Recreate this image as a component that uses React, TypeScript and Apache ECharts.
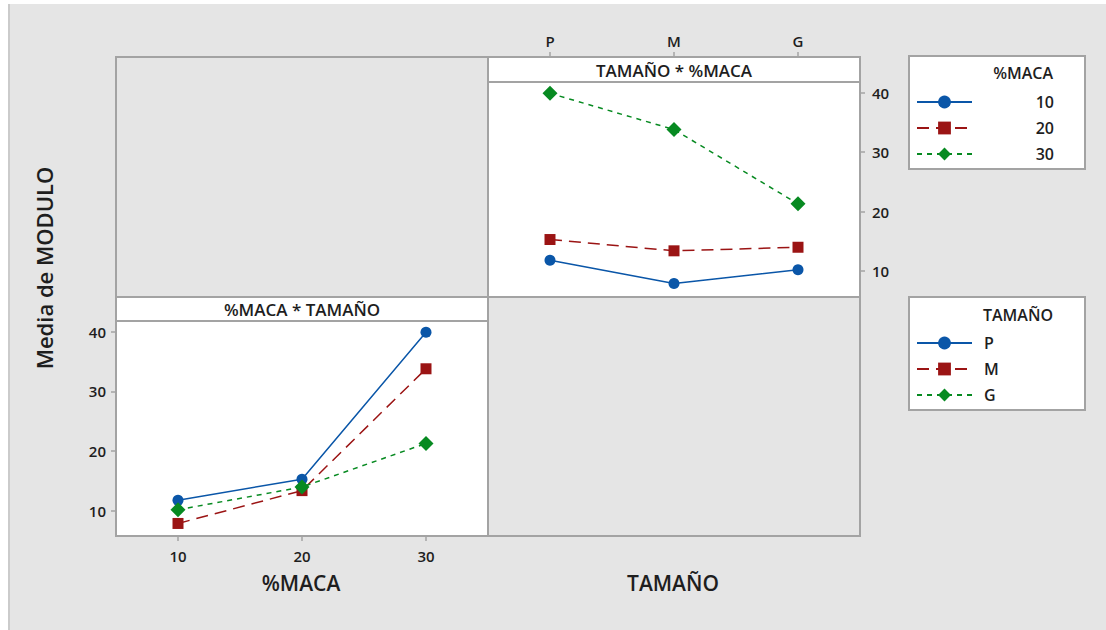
import React, { useEffect, useRef } from "react";
import * as echarts from "echarts";

// Categories
const tamanoCats = ["P", "M", "G"];
const macaCats = ["10", "20", "30"];
// Means of MODULO by TAMAÑO (rows) across %MACA 10, 20, 30
const meanP = [11.8, 15.3, 39.9];
const meanM = [7.9, 13.4, 33.8];
const meanG = [10.2, 14.0, 21.3];
const yTicks = [10, 20, 30, 40];
const yMin = 5.8;
const yMax = 41.8;

const FONT = "Open Sans";
const BLUE = "#0a56a8";
const RED = "#9b1414";
const GREEN = "#078a21";
const BORDER = "#a3a3a3";
const BG = "#e5e5e5";
const TXT = "#1e1e1e";

const styles = [
  { color: BLUE, symbol: "circle", size: 11, type: "solid" as any },
  { color: RED, symbol: "rect", size: 11, type: [12, 7] as any },
  { color: GREEN, symbol: "diamond", size: 15, type: [5, 5] as any },
];

export default function App() {
  const ref = useRef<HTMLDivElement>(null);
  useEffect(() => {
    if (!ref.current) return;
    const chart = echarts.init(ref.current, undefined, { renderer: "svg" });
    const byTamano = [meanP, meanM, meanG];
    // top panel: x = TAMAÑO, one series per %MACA level
    const topSeries = macaCats.map((m, j) => ({
      name: m,
      type: "line",
      xAxisIndex: 0,
      yAxisIndex: 0,
      data: byTamano.map((row) => row[j]),
      symbol: styles[j].symbol,
      symbolSize: styles[j].size,
      itemStyle: { color: styles[j].color },
      lineStyle: { color: styles[j].color, width: 1.5, type: styles[j].type },
      z: 5,
    }));
    // bottom panel: x = %MACA, one series per TAMAÑO level
    const botSeries = tamanoCats.map((t, i) => ({
      name: t,
      type: "line",
      xAxisIndex: 1,
      yAxisIndex: 1,
      data: byTamano[i],
      symbol: styles[i].symbol,
      symbolSize: styles[i].size,
      itemStyle: { color: styles[i].color },
      lineStyle: { color: styles[i].color, width: 1.5, type: styles[i].type },
      z: 5,
    }));

    const tickLabel = { color: TXT, fontFamily: FONT, fontSize: 15, fontWeight: 600 };
    const tick = { show: true, length: 5, lineStyle: { color: BORDER, width: 1.5 } };

    const legendCommon = {
      orient: "vertical",
      left: 916,
      itemWidth: 55,
      itemHeight: 16,
      itemGap: 10,
      padding: 0,
      selectedMode: false,
      textStyle: { color: TXT, fontFamily: FONT, fontSize: 16, fontWeight: 600 },
    };

    const option: any = {
      animation: false,
      backgroundColor: "transparent",
      grid: [
        { left: 488, top: 82, width: 372, height: 214, containLabel: false },
        { left: 116, top: 321, width: 372, height: 215, containLabel: false },
      ],
      xAxis: [
        {
          type: "category",
          gridIndex: 0,
          data: tamanoCats,
          position: "top",
          offset: 25,
          boundaryGap: true,
          axisLine: { show: false },
          axisTick: { ...tick, alignWithLabel: true },
          axisLabel: { ...tickLabel, margin: 9 },
        },
        {
          type: "category",
          gridIndex: 1,
          data: macaCats,
          position: "bottom",
          boundaryGap: true,
          axisLine: { show: false },
          axisTick: { ...tick, alignWithLabel: true },
          axisLabel: { ...tickLabel, margin: 12 },
        },
      ],
      yAxis: [
        {
          type: "value",
          gridIndex: 0,
          position: "right",
          min: yMin,
          max: yMax,
          splitLine: { show: false },
          axisLine: { show: false },
          axisTick: { ...tick, customValues: yTicks },
          axisLabel: { ...tickLabel, margin: 12, customValues: yTicks },
        },
        {
          type: "value",
          gridIndex: 1,
          position: "left",
          min: yMin,
          max: yMax,
          splitLine: { show: false },
          axisLine: { show: false },
          axisTick: { ...tick, customValues: yTicks },
          axisLabel: { ...tickLabel, margin: 10, customValues: yTicks },
        },
      ],
      legend: [
        {
          ...legendCommon,
          top: 94,
          data: macaCats,
          formatter: (n: string) => `{r|${n}}`,
          textStyle: {
            ...legendCommon.textStyle,
            rich: { r: { width: 77, align: "right", color: TXT, fontFamily: FONT, fontSize: 16, fontWeight: 600 } },
          },
        },
        {
          ...legendCommon,
          top: 335,
          data: tamanoCats,
          formatter: (n: string) => `{l|${n}}`,
          textStyle: {
            ...legendCommon.textStyle,
            rich: { l: { padding: [0, 0, 0, 7], color: TXT, fontFamily: FONT, fontSize: 16, fontWeight: 600 } },
          },
        },
      ],
      graphic: [
        // page background
        { type: "rect", z: -20, shape: { x: 8, y: 4, width: 1098, height: 626 }, style: { fill: BG } },
        { type: "rect", z: -19, shape: { x: 8, y: 4, width: 2, height: 626 }, style: { fill: "#cbcbcb" } },
        // white panels
        { type: "rect", z: -15, shape: { x: 488, y: 57, width: 372, height: 240 }, style: { fill: "#ffffff" } },
        { type: "rect", z: -15, shape: { x: 116, y: 297, width: 372, height: 239 }, style: { fill: "#ffffff" } },
        // outer frame and dividers
        { type: "rect", z: 1, shape: { x: 116, y: 57, width: 744, height: 479 }, style: { fill: "none", stroke: BORDER, lineWidth: 2 } },
        { type: "line", z: 1, shape: { x1: 488, y1: 57, x2: 488, y2: 536 }, style: { stroke: BORDER, lineWidth: 2 } },
        { type: "line", z: 1, shape: { x1: 116, y1: 297, x2: 860, y2: 297 }, style: { stroke: BORDER, lineWidth: 2 } },
        // strip separators
        { type: "line", z: 1, shape: { x1: 488, y1: 82, x2: 860, y2: 82 }, style: { stroke: BORDER, lineWidth: 2 } },
        { type: "line", z: 1, shape: { x1: 116, y1: 321, x2: 488, y2: 321 }, style: { stroke: BORDER, lineWidth: 2 } },
        // strip titles
        { type: "text", z: 2, x: 674, y: 70, style: { text: "TAMAÑO * %MACA", fill: TXT, font: `600 17px "${FONT}"`, textAlign: "center", textVerticalAlign: "middle" } },
        { type: "text", z: 2, x: 302, y: 309, style: { text: "%MACA * TAMAÑO", fill: TXT, font: `600 17px "${FONT}"`, textAlign: "center", textVerticalAlign: "middle" } },
        // axis titles
        { type: "text", z: 2, x: 301, y: 583, style: { text: "%MACA", fill: TXT, font: `600 21px "${FONT}"`, textAlign: "center", textVerticalAlign: "middle" } },
        { type: "text", z: 2, x: 673, y: 583, style: { text: "TAMAÑO", fill: TXT, font: `600 21px "${FONT}"`, textAlign: "center", textVerticalAlign: "middle" } },
        { type: "text", z: 2, x: 44, y: 268, rotation: Math.PI / 2, style: { text: "Media de MODULO", fill: TXT, font: `600 22px "${FONT}"`, textAlign: "center", textVerticalAlign: "middle" } },
        // legend boxes
        { type: "rect", z: -10, shape: { x: 909, y: 56, width: 176, height: 113 }, style: { fill: "#ffffff", stroke: BORDER, lineWidth: 2 } },
        { type: "rect", z: -10, shape: { x: 909, y: 297, width: 176, height: 113 }, style: { fill: "#ffffff", stroke: BORDER, lineWidth: 2 } },
        { type: "text", z: 2, x: 1053, y: 73, style: { text: "%MACA", fill: TXT, font: `600 16px "${FONT}"`, textAlign: "right", textVerticalAlign: "middle" } },
        { type: "text", z: 2, x: 983, y: 315, style: { text: "TAMAÑO", fill: TXT, font: `600 16px "${FONT}"`, textAlign: "left", textVerticalAlign: "middle" } },
      ],
      series: [...topSeries, ...botSeries],
    };
    chart.setOption(option);
    return () => chart.dispose();
  }, []);
  return (
    <div style={{ position: "fixed", left: 0, top: 0, width: 1106, height: 630, background: "#ffffff" }}>
      <div ref={ref} style={{ width: 1106, height: 630 }} />
    </div>
  );
}
